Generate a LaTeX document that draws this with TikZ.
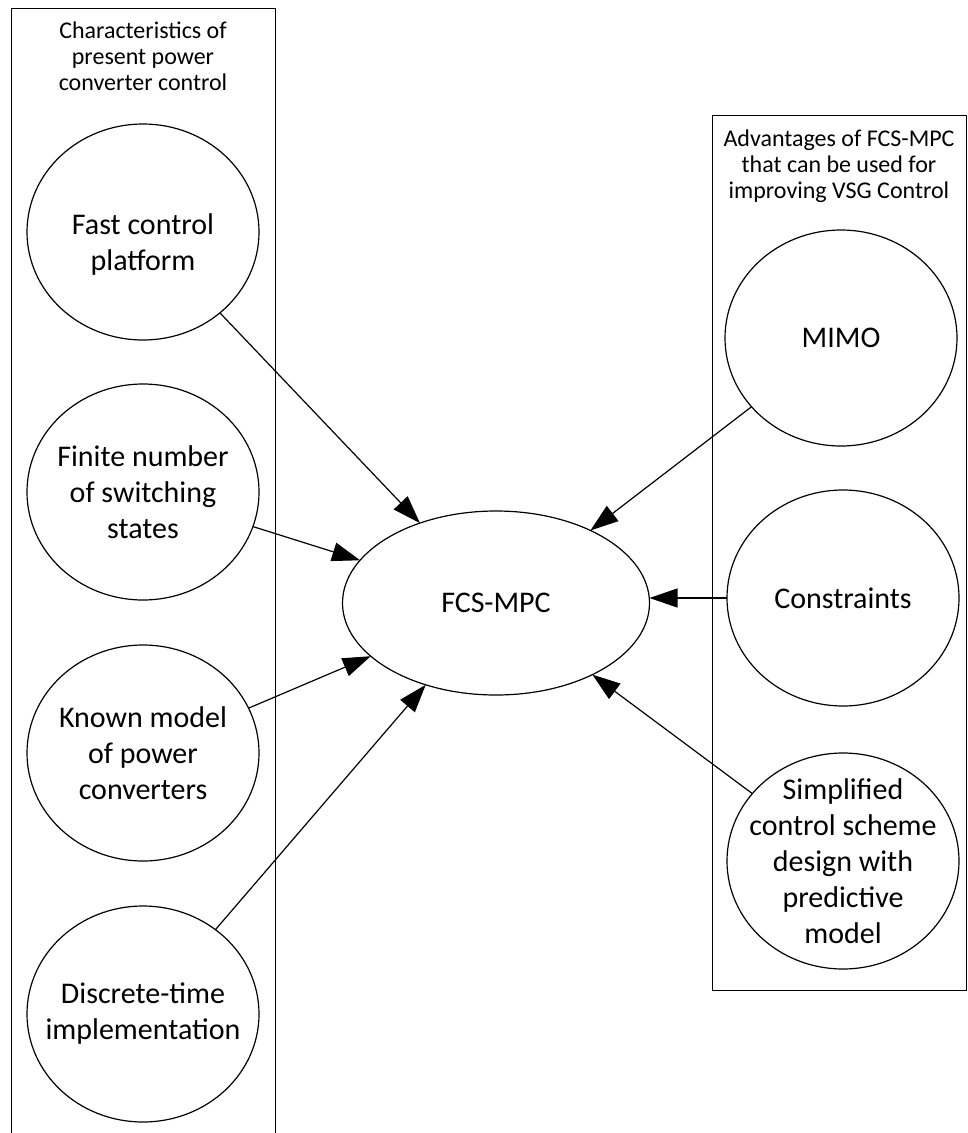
\documentclass[tikz,border=0pt]{standalone}
\usepackage{fontspec}
\setmainfont{Carlito}
\usetikzlibrary{shapes.geometric, arrows.meta}

\begin{document}
\begin{tikzpicture}[x=1pt, y=-1pt,
  bubble/.style={ellipse, draw, line width=1.2pt, minimum width=232pt, minimum height=216pt,
    inner sep=-40pt, outer sep=0pt, align=center, font=\fontsize{30}{36}\selectfont},
  feed/.style={-{Triangle[length=28pt, width=19pt]}, line width=1.2pt},
  boxtitle/.style={align=center, inner sep=0pt, font=\fontsize{24}{26}\selectfont}]
  \useasboundingbox (0,0) rectangle (968,1133);
  % column frames
  \draw[line width=0.9pt] (11,1133) -- (11,8) -- (275,8) -- (275,1133);
  \draw[line width=0.9pt] (712,115) rectangle (966,990);
  \node[boxtitle] (leftcap) at (143,56) {Characteristics of\\present power\\converter control};
  \node[boxtitle] (rightcap) at (839,166) {Advantages of FCS-MPC\\that can be used for\\improving VSG Control};
  % left column
  \node[bubble, text height=82pt] (fast) at (143,232) {Fast control\\platform};
  \node[bubble] (finite) at (143,492) {Finite number\\of switching\\states};
  \node[bubble] (known) at (143,753) {Known model\\of power\\converters};
  \node[bubble] (discrete) at (143,1014) {Discrete-time\\implementation};
  % centre
  \node[bubble, minimum width=307pt, minimum height=184pt] (fcs) at (496,603) {FCS-MPC};
  % right column
  \node[bubble] (mimo) at (841,338) {MIMO};
  \node[bubble] (constr) at (843,598) {Constraints};
  \node[bubble] (simple) at (843,861) {Simplified\\control scheme\\design with\\predictive\\model};
  \foreach \src in {fast, finite, known, discrete, mimo, simple}
    \draw[feed] (\src) -- (fcs);
  \draw[feed] (constr) -- (constr -| fcs.east);
\end{tikzpicture}
\end{document}
